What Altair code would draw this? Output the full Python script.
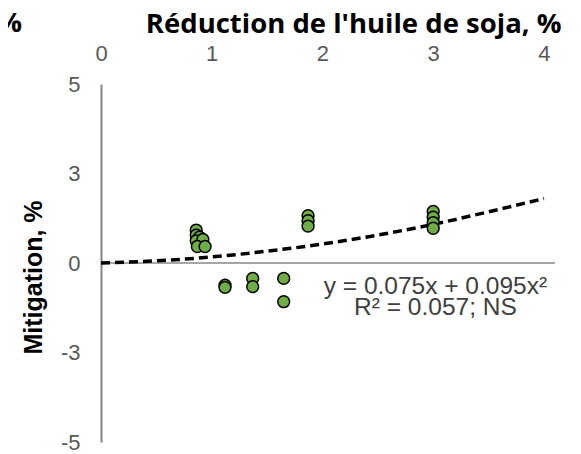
import altair as alt
import pandas as pd

# Scatter data
pt_x = [0.86, 0.86, 0.89, 0.86, 0.92, 0.87, 0.94, 1.12, 1.12, 1.37, 1.37, 1.65, 1.65,
        1.87, 1.87, 1.87, 3.00, 3.00, 3.00, 3.00]
pt_y = [0.92, 0.78, 0.72, 0.62, 0.66, 0.46, 0.46, -0.62, -0.68, -0.43, -0.66, -0.43, -1.08,
        1.32, 1.18, 1.03, 1.44, 1.28, 1.13, 0.97]

# Trend curve
tr_x = [0, 0.5, 1, 1.5, 2, 2.5, 3, 3.5, 4]
tr_y = [0, 0.06, 0.17, 0.33, 0.53, 0.78, 1.08, 1.43, 1.8]

# Axis ticks
x_ticks = [0, 1, 2, 3, 4]
y_ticks = [-5, -2.5, 0, 2.5, 5]
y_tick_labels = ["-5", "-3", "0", "3", "5"]

# Annotation
eq_lines = ["y = 0.075x + 0.095x²", "R² = 0.057; NS"]
eq_x = [3.02, 3.02]
eq_y = [-0.67, -1.27]

pts = pd.DataFrame({"x": pt_x, "y": pt_y, "kind": "pt", "t": ""})
trend = pd.DataFrame({"x": tr_x, "y": tr_y, "kind": "trend", "t": ""})
eq = pd.DataFrame({"x": eq_x, "y": eq_y, "kind": "eq", "t": eq_lines})
zero = pd.DataFrame({"x": [0], "y": [0], "kind": ["zero"], "t": [""]})
data = pd.concat([pts, trend, eq, zero], ignore_index=True)

xs = alt.Scale(domain=[0, 4.1], nice=False, zero=False)
ys = alt.Scale(domain=[-5, 5], nice=False, zero=False)

label_expr = " : ".join(
    f"datum.value == {v} ? '{l}'" for v, l in zip(y_ticks, y_tick_labels)
) + " : datum.label"

x_axis = alt.Axis(
    orient="top", values=x_ticks, domain=False, ticks=False, tickSize=0, grid=False,
    labelPadding=24, labelBaseline="alphabetic", labelFontSize=22, labelFlush=False,
    labelFont="Liberation Sans", labelColor="#595959",
    title="Réduction de l'huile de soja, %", titleFont="Open Sans", titleFontSize=27.5,
    titleFontWeight="bold", titleColor="#000000", titleX=460, titleY=-52,
    titleAlign="right", titleBaseline="alphabetic",
)
y_axis = alt.Axis(
    orient="left", values=y_ticks, labelExpr=label_expr, domain=True,
    domainColor="#868686", domainWidth=2, ticks=False, tickSize=0, grid=False,
    labelPadding=21, labelFontSize=22, labelFont="Liberation Sans", labelColor="#595959",
    labelFlush=False,
    title="Mitigation, %", titleFont="Liberation Sans", titleFontSize=25,
    titleFontWeight="bold", titleColor="#000000", titleAngle=270, titleX=-68, titleY=193,
    titleAlign="center", titleBaseline="middle",
)

base = alt.Chart(data).encode(
    x=alt.X("x:Q", scale=xs, axis=x_axis),
    y=alt.Y("y:Q", scale=ys, axis=y_axis),
)

zero_rule = alt.Chart(data).transform_filter("datum.kind == 'zero'").mark_rule(
    color="#a6a6a6", strokeWidth=2
).encode(y=alt.Y("y:Q", scale=ys, axis=y_axis))

line = base.transform_filter("datum.kind == 'trend'").mark_line(
    color="#000000", strokeWidth=3.5, strokeDash=[9, 5], interpolate="monotone"
)

points = base.transform_filter("datum.kind == 'pt'").mark_point(
    shape="circle", filled=True, fill="#70ad47", stroke="#000000",
    strokeWidth=1.5, size=140, opacity=1
)

eq_text = base.transform_filter("datum.kind == 'eq'").mark_text(
    font="Liberation Sans", fontSize=24.5, color="#404040", align="center", baseline="middle"
).encode(text="t:N")

pct = alt.Chart(pd.DataFrame({"t": ["%"]})).mark_text(
    font="Open Sans", fontSize=27.5, fontWeight="bold", color="#000000",
    align="right", baseline="alphabetic"
).encode(x=alt.value(-79), y=alt.value(-52), text="t:N")

chart = alt.layer(zero_rule, line, points, eq_text, pct).properties(
    width=454, height=358,
    autosize=alt.AutoSizeParams(type="none"),
    padding={"left": 93, "top": 76, "right": 18, "bottom": 12},
    background="white",
).configure_view(stroke=None)

chart.save("out.html", embed_options={"renderer": "svg", "actions": False})
